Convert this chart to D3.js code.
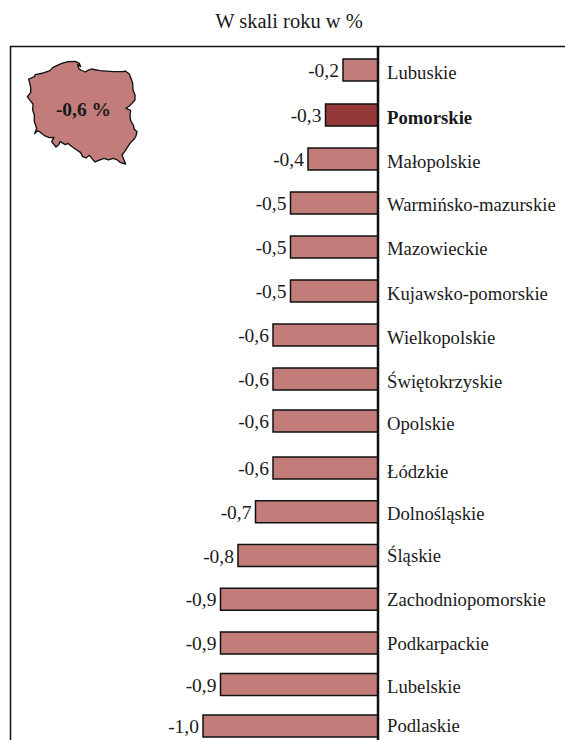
<!DOCTYPE html>
<html><head><meta charset="utf-8">
<script src="https://cdnjs.cloudflare.com/ajax/libs/d3/7.8.5/d3.min.js"></script>
<style>html,body{margin:0;padding:0;background:#fff}svg{display:block}text{font-family:"Liberation Serif",serif;fill:#1a1a1a}</style>
</head><body><div id="c"></div>
<script>
const regions=["Lubuskie","Pomorskie","Małopolskie","Warmińsko-mazurskie","Mazowieckie","Kujawsko-pomorskie","Wielkopolskie","Świętokrzyskie","Opolskie","Łódzkie","Dolnośląskie","Śląskie","Zachodniopomorskie","Podkarpackie","Lubelskie","Podlaskie"];
const values=[-0.2,-0.3,-0.4,-0.5,-0.5,-0.5,-0.6,-0.6,-0.6,-0.6,-0.7,-0.8,-0.9,-0.9,-0.9,-1.0];
const highlighted="Pomorskie";
const title="W skali roku w %";
const mapLabel="-0,6 %";
const polandOutline=[[86,237],[103,230],[106,224],[130,219],[150,212],[158,203],[172,196],[185,190],[205,185],[226,184],[238,190],[242,200],[233,194],[236,205],[242,210],[256,216],[262,212],[274,207],[300,212],[340,215],[370,215],[376,213],[388,222],[394,238],[398,250],[399,270],[405,285],[405,300],[396,310],[388,318],[378,325],[392,331],[390,345],[392,362],[400,375],[403,388],[411,395],[408,408],[402,418],[392,428],[385,438],[376,452],[366,465],[372,480],[377,492],[362,488],[352,480],[340,475],[325,480],[312,475],[300,480],[285,486],[278,478],[268,466],[258,474],[248,470],[242,458],[226,447],[210,436],[204,430],[196,434],[180,425],[176,434],[168,441],[155,425],[162,412],[148,413],[135,408],[120,396],[112,393],[104,401],[110,385],[103,365],[103,345],[98,330],[99,312],[88,298],[82,290],[92,278],[92,262],[88,245]];

const W=565,H=740;
const svg=d3.select("#c").append("svg").attr("width",W).attr("height",H);
const x=d3.scaleLinear().domain([-1,0]).range([203,378]);
const rowTop=d3.scaleLinear().domain([0,1,7,8,9,13,15]).range([59,104,368,410,457,632,715]);
const labelY=d3.scaleLinear().domain([0,1,2,3,7,8,9,10,11,13,14,15]).range([79,124,168,211,388,430,478,520,562,650,693,732]);
const barH=22;

svg.append("path").attr("d",`M10.5,${H}V46.5H${W}`).attr("fill","none").attr("stroke","#111").attr("stroke-width",1.5);
svg.append("text").attr("x",289).attr("y",28).attr("text-anchor","middle").attr("font-size",20.5).text(title);

const rows=svg.selectAll("g.row").data(regions).join("g").attr("class","row");
rows.append("rect")
 .attr("x",(d,i)=>x(values[i])).attr("y",(d,i)=>rowTop(i))
 .attr("width",(d,i)=>x(0)-x(values[i])).attr("height",barH)
 .attr("fill",d=>d===highlighted?"#953838":"#c27c7a")
 .attr("stroke","#111").attr("stroke-width",1.5);
rows.append("text").attr("x",(d,i)=>x(values[i])-4).attr("y",(d,i)=>rowTop(i)+18)
 .attr("text-anchor","end").attr("font-size",19.5)
 .text((d,i)=>d3.format(".1f")(values[i]).replace(".",",").replace("−","-"));
rows.append("text").attr("x",387).attr("y",(d,i)=>labelY(i))
 .attr("font-size",18.7).attr("font-weight",d=>d===highlighted?"bold":null).text(d=>d);

svg.append("line").attr("x1",378).attr("x2",378).attr("y1",46).attr("y2",H).attr("stroke","#111").attr("stroke-width",2.5);

const map=svg.append("g").attr("transform","scale(0.3333)");
map.append("path").attr("d",d3.line().curve(d3.curveLinearClosed)(polandOutline))
 .attr("fill","#c27c7a").attr("stroke","#111").attr("stroke-width",4).attr("stroke-linejoin","round");
svg.append("text").attr("x",83.5).attr("y",116).attr("text-anchor","middle").attr("font-size",19.5).attr("font-weight","bold").text(mapLabel);
</script></body></html>
